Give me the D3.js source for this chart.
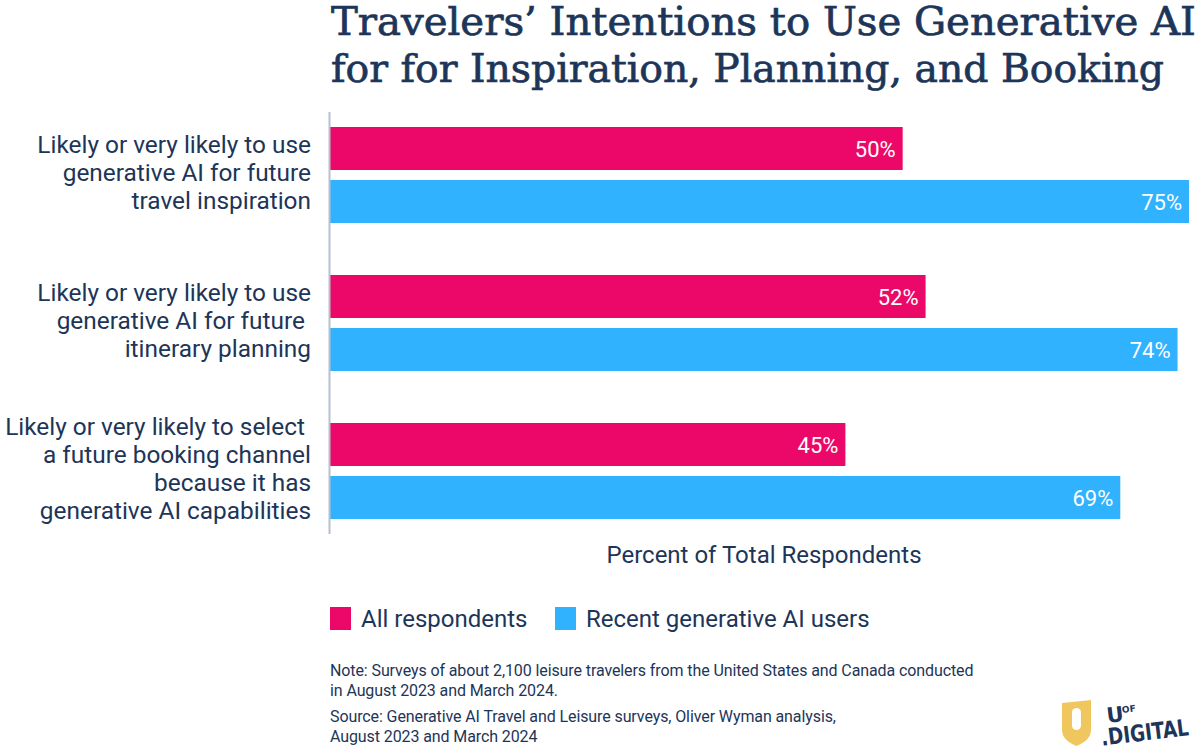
<!DOCTYPE html>
<html>
<head>
<meta charset="utf-8">
<script src="https://cdn.jsdelivr.net/npm/d3@7"></script>
<style>
  body { margin: 0; background: #fff; }
  svg { display: block; }
</style>
</head>
<body>
<div id="chart"></div>
<script>
// chart data
const categories = [
    ["Likely or very likely to use", "generative AI for future", "travel inspiration"],
    ["Likely or very likely to use", "generative AI for future ", "itinerary planning"],
    ["Likely or very likely to select ", "a future booking channel", "because it has", "generative AI capabilities"]
];
const seriesNames = ["All respondents", "Recent generative AI users"];
const allRespondents = [50, 52, 45];
const recentUsers = [75, 74, 69];

const navy = "#1d3558";
const colors = ["#ec0868", "#30b2ff"];

const width = 1200, height = 750;
const svg = d3.select("#chart").append("svg")
    .attr("width", width)
    .attr("height", height);

// title
const title = svg.append("text")
    .attr("font-family", "'DejaVu Serif', serif")
    .attr("font-size", "39px")
    .attr("fill", navy)
    .attr("stroke", navy)
    .attr("stroke-width", 0.7);
title.append("tspan").attr("x", 331).attr("y", 35)
    .attr("textLength", 865).attr("lengthAdjust", "spacingAndGlyphs")
    .text("Travelers\u2019 Intentions to Use Generative AI");
title.append("tspan").attr("x", 331).attr("y", 82)
    .attr("textLength", 833).attr("lengthAdjust", "spacingAndGlyphs")
    .text("for for Inspiration, Planning, and Booking");

// scales
const x = d3.scaleLinear().domain([0, 75]).range([330, 1189]);
const y = d3.scaleBand().domain(d3.range(categories.length)).range([112, 556]);
const sub = d3.scaleBand().domain([0, 1]).range([15, 111]).paddingInner(10 / 53);

const data = categories.map((c, i) => ({ i: i, label: c, values: [allRespondents[i], recentUsers[i]] }));

const groups = svg.selectAll("g.group")
    .data(data)
    .enter()
    .append("g")
    .attr("class", "group")
    .attr("transform", d => `translate(0, ${y(d.i)})`);

groups.selectAll("rect")
    .data(d => d.values)
    .enter()
    .append("rect")
    .attr("x", x(0))
    .attr("y", (d, j) => sub(j))
    .attr("width", d => x(d) - x(0))
    .attr("height", sub.bandwidth())
    .attr("fill", (d, j) => colors[j]);

groups.selectAll("text.value")
    .data(d => d.values)
    .enter()
    .append("text")
    .attr("class", "value")
    .attr("x", d => x(d) - 7)
    .attr("y", (d, j) => sub(j) + sub.bandwidth() / 2 + 8)
    .attr("text-anchor", "end")
    .attr("font-family", "Roboto, sans-serif")
    .attr("font-size", "22px")
    .attr("fill", "#fff")
    .text(d => d + "%");

// category labels
groups.each(function(d) {
    const lh = 28;
    const n = d.label.length;
    const mid = 68;
    const t = d3.select(this).append("text")
        .attr("text-anchor", "end")
        .attr("font-family", "Roboto, sans-serif")
        .attr("font-size", "24.4px")
        .attr("fill", navy)
        .attr("style", "white-space: pre");
    d.label.forEach((line, k) => {
        t.append("tspan")
            .attr("x", 311)
            .attr("y", mid - (n - 1) * lh / 2 + k * lh + 1)
            .text(line);
    });
});

// axis line
svg.append("line")
    .attr("x1", 329.5).attr("x2", 329.5)
    .attr("y1", 112).attr("y2", 534)
    .attr("stroke", "#b8c0d0")
    .attr("stroke-width", 2);

// axis title
svg.append("text")
    .attr("x", 764)
    .attr("y", 563)
    .attr("text-anchor", "middle")
    .attr("font-family", "Roboto, sans-serif")
    .attr("font-size", "24px")
    .attr("fill", navy)
    .text("Percent of Total Respondents");

// legend
const legendX = [330, 555];
const legend = svg.selectAll("g.legend")
    .data(seriesNames)
    .enter()
    .append("g")
    .attr("class", "legend")
    .attr("transform", (d, i) => `translate(${legendX[i]}, 607)`);
legend.append("rect")
    .attr("width", 21)
    .attr("height", 23)
    .attr("fill", (d, i) => colors[i]);
legend.append("text")
    .attr("x", 31)
    .attr("y", 20)
    .attr("font-family", "Roboto, sans-serif")
    .attr("font-size", "24px")
    .attr("fill", navy)
    .text(d => d);

// notes
const notes = [
    ["Note: Surveys of about 2,100 leisure travelers from the United States and Canada conducted", 676],
    ["in August 2023 and March 2024.", 696],
    ["Source: Generative AI Travel and Leisure surveys, Oliver Wyman analysis,", 722],
    ["August 2023 and March 2024", 742]
];
svg.selectAll("text.note")
    .data(notes)
    .enter()
    .append("text")
    .attr("class", "note")
    .attr("x", 330)
    .attr("y", d => d[1])
    .attr("font-family", "Roboto, sans-serif")
    .attr("font-size", "16px")
    .attr("letter-spacing", "-0.1px")
    .attr("fill", navy)
    .text(d => d[0]);

// logo
const logo = svg.append("g").attr("transform", "translate(1062, 700)");
logo.append("path")
    .attr("d", "M0,3 L29,0 L29,30 Q29,40 14.5,46 Q0,40 0,30 Z")
    .attr("fill", "#f0c75e");
logo.append("rect")
    .attr("x", 10).attr("y", 8).attr("width", 9).attr("height", 22).attr("rx", 4.5)
    .attr("fill", "#fff");
const lt = logo.append("g").attr("transform", "translate(35, 4) rotate(-7)");
lt.append("text").attr("x", 8).attr("y", 20)
    .attr("font-family", "'DejaVu Sans', sans-serif").attr("font-weight", "bold")
    .attr("font-size", "21px").attr("fill", navy).text("U");
lt.append("text").attr("x", 24).attr("y", 12)
    .attr("font-family", "'DejaVu Sans', sans-serif").attr("font-weight", "bold")
    .attr("font-size", "9px").attr("fill", navy).text("OF");
lt.append("text").attr("x", 0).attr("y", 42)
    .attr("font-family", "'DejaVu Sans Condensed', sans-serif").attr("font-weight", "bold")
    .attr("font-size", "23px").attr("fill", navy)
    .attr("textLength", 88).attr("lengthAdjust", "spacingAndGlyphs")
    .text(".DIGITAL");
</script>
</body>
</html>
